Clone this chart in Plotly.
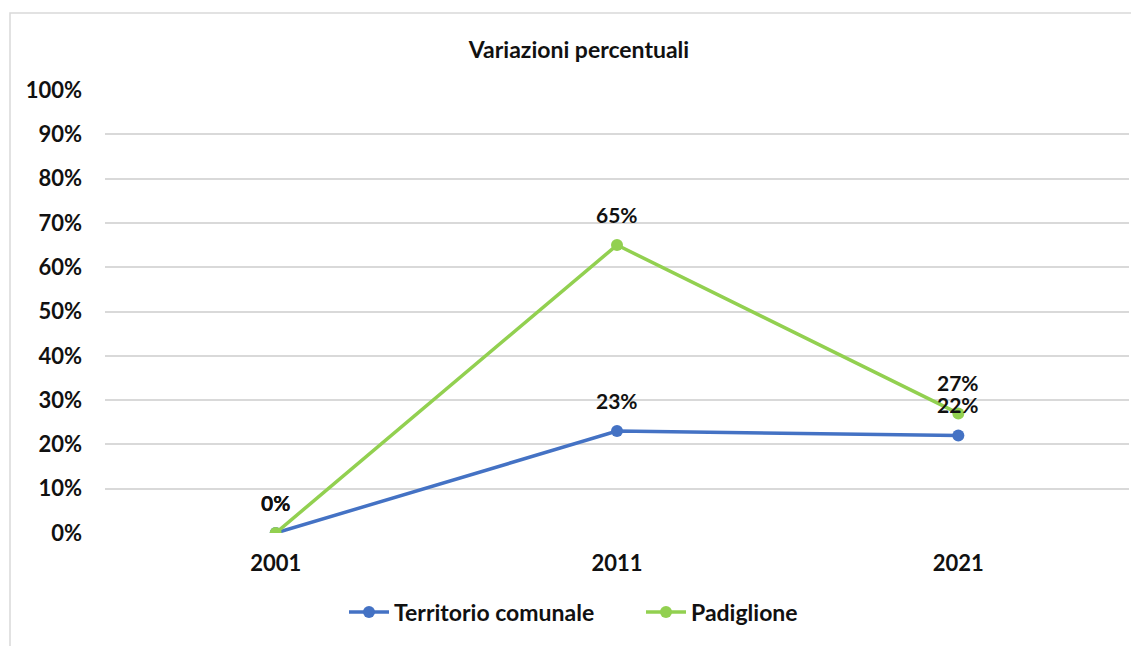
import plotly.graph_objects as go

years = ["2001", "2011", "2021"]
territorio = [0.0, 0.23, 0.22]
padiglione = [0.0, 0.65, 0.27]
series_names = ["Territorio comunale", "Padiglione"]
colors = ["#4472C4", "#92D050"]
title_text = "Variazioni percentuali"
y_ticks = [i / 10 for i in range(11)]
y_ticklabels = [f"{i * 10}%" for i in range(11)]

FONT = "Lato, 'Open Sans', sans-serif"
TXT = "#111111"
FS = 22

fig = go.Figure()
for name, vals, col in zip(series_names, [territorio, padiglione], colors):
    fig.add_trace(go.Scatter(
        x=list(range(len(years))), y=vals, name=f"<b>{name}</b>", mode="lines+markers",
        line=dict(color=col, width=3.5),
        marker=dict(color=col, size=12),
        hoverinfo="skip",
    ))

annotations = []
for vals in [territorio, padiglione]:
    for i, yv in enumerate(vals):
        annotations.append(dict(
            x=i, y=yv, xref="x", yref="y", text=f"<b>{round(yv * 100)}%</b>",
            showarrow=False, yshift=31,
            font=dict(family=FONT, size=21, color=TXT),
        ))

# the page body has an 8px margin; figure sized to fill the rest of the window
W, H = 1131, 638
l, r, t, b = 97, 10, 82, 113
pw, ph = W - l - r, H - t - b

fig.update_layout(
    width=W, height=H,
    margin=dict(l=l, r=r, t=t, b=b, autoexpand=False),
    paper_bgcolor="white", plot_bgcolor="white",
    title=dict(text=f"<b>{title_text}</b>", x=571 / W, xanchor="center", y=1 - 42 / H,
               yanchor="middle", font=dict(family=FONT, size=23, color=TXT)),
    font=dict(family=FONT, size=FS, color=TXT),
    showlegend=True,
    legend=dict(orientation="h", x=(336 - l) / pw, xanchor="left", y=-(604 - (t + ph)) / ph,
                yanchor="middle", font=dict(family=FONT, size=23, color=TXT),
                itemwidth=40, traceorder="normal", entrywidth=242, entrywidthmode="pixels"),
    annotations=annotations,
    shapes=[dict(type="rect", xref="paper", yref="paper",
                 x0=-(l - 2) / pw, x1=1 + 30 / pw, y0=-(b + 30) / ph, y1=1 + (t - 5) / ph,
                 line=dict(color="#d9d9d9", width=1.5), fillcolor="rgba(0,0,0,0)", layer="below")],
)
fig.update_xaxes(range=[-0.5, len(years) - 0.5], showgrid=False, zeroline=False,
                 showline=False, ticks="", ticklabelstandoff=15, automargin=False,
                 tickfont=dict(family=FONT, size=FS, color=TXT),
                 tickmode="array", tickvals=list(range(len(years))),
                 ticktext=[f"<b>{y}</b>" for y in years])
fig.update_yaxes(range=[0, 1.0], tickvals=y_ticks, ticktext=[f"<b>{s}</b>" for s in y_ticklabels],
                 showgrid=True, gridcolor="#d9d9d9", gridwidth=1.5, zeroline=False,
                 showline=False, ticks="", ticklabelstandoff=22, automargin=False,
                 tickfont=dict(family=FONT, size=FS, color=TXT))

fig.write_html("out.html")
